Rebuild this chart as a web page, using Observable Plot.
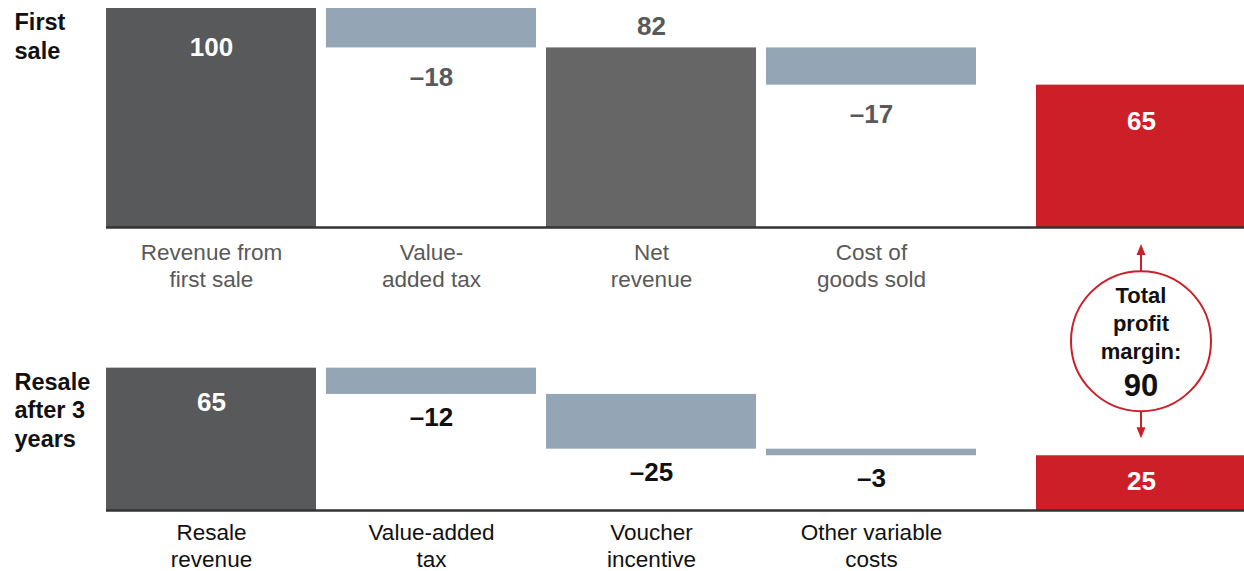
<!DOCTYPE html>
<html><head><meta charset="utf-8">
<script src="https://cdn.jsdelivr.net/npm/d3@7"></script>
<script src="https://cdn.jsdelivr.net/npm/@observablehq/plot@0.6"></script>
<style>
html,body{margin:0;padding:0;background:#fff;}
#chart{position:relative;width:1244px;height:571px;overflow:hidden;font-family:"Liberation Sans",Arial,sans-serif;}
#chart svg{position:absolute;left:0;}
</style></head><body><div id="chart"></div>
<script>
// ---- data ----
const firstSaleLabels = ["Revenue from\nfirst sale", "Value-\nadded tax", "Net\nrevenue", "Cost of\ngoods sold", ""];
const firstSaleValues = [100, -18, 82, -17, 65];
const firstSaleKinds  = ["total", "delta", "subtotal", "delta", "profit"];

const resaleLabels = ["Resale\nrevenue", "Value-added\ntax", "Voucher\nincentive", "Other variable\ncosts", ""];
const resaleValues = [65, -12, -25, -3, 25];
const resaleKinds  = ["total", "delta", "delta", "delta", "profit"];

const panelLabels = ["First\nsale", "Resale\nafter 3\nyears"];
const totalMarginLabel = "Total\nprofit\nmargin:";
const totalMarginValue = 90;

// ---- styling ----
const colors = {total: "#58595b", subtotal: "#666666", delta: "#94a6b5", profit: "#cc1f27"};
const FONT = "'Liberation Sans', Arial, sans-serif";
const PROFIT_SHIFT = 50;

function waterfall(labels, values, kinds) {
  let run = 0;
  return labels.map((label, i) => {
    const v = values[i], k = kinds[i];
    let y1, y2;
    if (k === "delta") { y1 = run + v; y2 = run; run += v; }
    else { y1 = 0; y2 = v; run = v; }
    return {i, label, value: v, kind: k, y1, y2, text: v < 0 ? "\u2013" + Math.abs(v) : String(v)};
  });
}

function panel(rows, panelLabel, o) {
  const main = rows.filter(d => d.kind !== "profit");
  const profit = rows.filter(d => d.kind === "profit");
  return Plot.plot({
    width: 1244, height: o.height,
    marginLeft: 106, marginRight: 0, marginTop: 8, marginBottom: o.height - 227,
    style: {fontFamily: FONT, background: "transparent", overflow: "visible"},
    x: {type: "band", domain: d3.range(rows.length), range: [106, 1196], paddingInner: 10 / 220, paddingOuter: 0, axis: null},
    y: {domain: [0, 100], axis: null},
    marks: [
      Plot.barY(main, {x: "i", y1: "y1", y2: "y2", fill: d => colors[d.kind]}),
      Plot.barY(profit, {x: "i", y1: "y1", y2: "y2", fill: colors.profit, dx: PROFIT_SHIFT}),
      Plot.ruleY([0], {stroke: "#333", strokeWidth: 2.5}),
      Plot.text(rows.filter(d => d.kind === "total"), {x: "i", y: "y2", text: "text", fill: "white", fontWeight: "bold", fontSize: 26, dy: o.totalDy}),
      Plot.text(rows.filter(d => d.kind === "subtotal"), {x: "i", y: "y2", text: "text", fill: o.valueColor, fontWeight: "bold", fontSize: 26, dy: -21}),
      Plot.text(rows.filter(d => d.kind === "delta"), {x: "i", y: "y1", text: "text", fill: o.valueColor, fontWeight: "bold", fontSize: 26, dy: o.deltaDy}),
      Plot.text(profit, {x: "i", y: "y2", text: "text", fill: "white", fontWeight: "bold", fontSize: 26, dy: o.profitDy, dx: PROFIT_SHIFT}),
      Plot.text(main, {x: "i", text: "label", frameAnchor: "bottom", lineAnchor: "top", dy: o.catDy, fontSize: 22.5, lineHeight: 1.18, fill: o.catColor}),
      Plot.text([rows[0]], {y: "y2", text: () => panelLabel, frameAnchor: "left", textAnchor: "start", dx: -92, lineAnchor: "top", dy: 1, fontSize: 23.5, fontWeight: "bold", lineHeight: 1.22, fill: "#111"})
    ]
  });
}

const topRows = waterfall(firstSaleLabels, firstSaleValues, firstSaleKinds);
const botRows = waterfall(resaleLabels, resaleValues, resaleKinds);

const BOTTOM_OFFSET = 283;
const container = document.getElementById("chart");
const topChart = panel(topRows, panelLabels[0], {height: 290, totalDy: 39, deltaDy: 30, profitDy: 37, catDy: 14, valueColor: "#58595b", catColor: "#595959"});
const botChart = panel(botRows, panelLabels[1], {height: 288, totalDy: 35, deltaDy: 23, profitDy: 26, catDy: 11, valueColor: "#111", catColor: "#111"});
topChart.style.top = "0px";
botChart.style.top = BOTTOM_OFFSET + "px";
container.append(topChart, botChart);

// ---- annotation: total profit margin circle between the two profit bars ----
const xs = topChart.scale("x");
const pIndex = topRows.findIndex(d => d.kind === "profit");
const cx = xs.apply(pIndex) + xs.bandwidth / 2 + PROFIT_SHIFT;
const yTopBase = topChart.scale("y").apply(0);
const yBotTop = BOTTOM_OFFSET + botChart.scale("y").apply(botRows[pIndex].y2);
const cy = (yTopBase + yBotTop) / 2;
const r = 70;
const red = colors.profit;

const svg = d3.select(container).append("svg")
  .attr("width", 1244).attr("height", 571).style("top", "0px")
  .style("font-family", FONT);

function arrow(yFrom, yTo) {
  const dir = Math.sign(yTo - yFrom);
  svg.append("line").attr("x1", cx).attr("x2", cx).attr("y1", yFrom).attr("y2", yTo - dir * 9)
    .attr("stroke", red).attr("stroke-width", 2);
  svg.append("path")
    .attr("d", `M${cx},${yTo} L${cx - 4.5},${yTo - dir * 11} L${cx + 4.5},${yTo - dir * 11} Z`)
    .attr("fill", red);
}
arrow(cy - r, yTopBase + 17);
arrow(cy + r, yBotTop - 17);

svg.append("circle").attr("cx", cx).attr("cy", cy).attr("r", r)
  .attr("fill", "white").attr("stroke", red).attr("stroke-width", 2);

totalMarginLabel.split("\n").forEach((line, k) => {
  svg.append("text").attr("x", cx).attr("y", cy - 46 + k * 28).attr("dy", "0.35em")
    .attr("text-anchor", "middle").attr("font-size", 22).attr("font-weight", "bold")
    .attr("fill", "#111").text(line);
});
svg.append("text").attr("x", cx).attr("y", cy + 44).attr("dy", "0.35em")
  .attr("text-anchor", "middle").attr("font-size", 31).attr("font-weight", "bold")
  .attr("fill", "#111").text(String(totalMarginValue));
</script>
</body></html>
